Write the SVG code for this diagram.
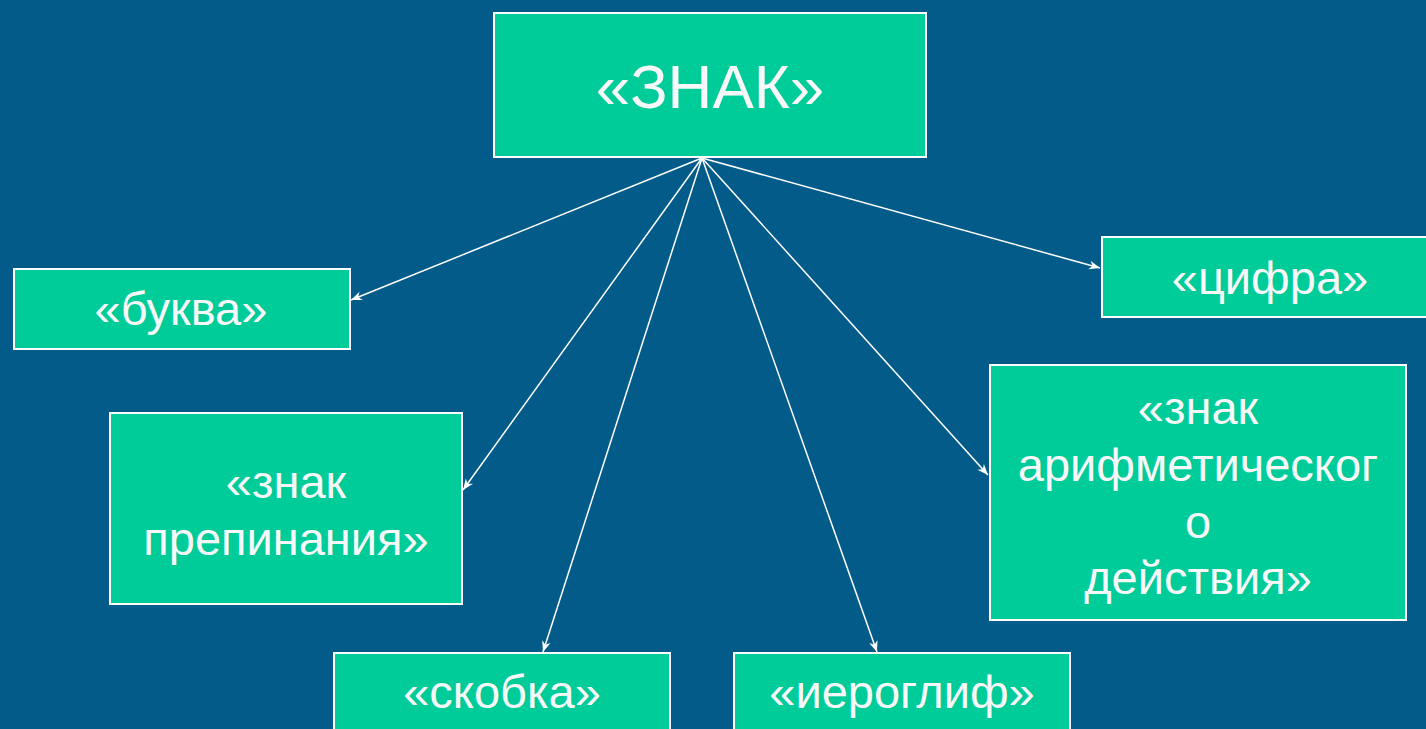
<svg xmlns="http://www.w3.org/2000/svg" width="1426" height="729" viewBox="0 0 1426 729">
<style>
.box{fill:#00cc99;stroke:#ffffff;stroke-width:2}
.t{font-family:"Liberation Sans",Arial,sans-serif;font-size:47px;fill:#f8f8f8;text-anchor:middle}
.c{stroke:#ffffff;stroke-width:1.5;fill:none;marker-end:url(#ah)}
</style>
<defs>
<marker id="ah" viewBox="0 0 10 10" refX="10" refY="5" markerWidth="11" markerHeight="11" markerUnits="userSpaceOnUse" orient="auto">
<path d="M0,1 L10,5 L0,9 L3,5 Z" fill="#ffffff"/>
</marker>
</defs>
<rect width="1426" height="729" fill="#035b8a"/>
<g id="connectors">
<line class="c" x1="702" y1="158" x2="351" y2="300"/>
<line class="c" x1="702" y1="158" x2="463" y2="490"/>
<line class="c" x1="702" y1="158" x2="543" y2="652"/>
<line class="c" x1="702" y1="158" x2="877" y2="652"/>
<line class="c" x1="702" y1="158" x2="988" y2="475"/>
<line class="c" x1="702" y1="158" x2="1100" y2="268"/>
</g>
<g id="znak">
<rect class="box" x="494" y="13" width="432" height="144"/>
<text class="t" x="710" y="108" style="font-size:62px">«ЗНАК»</text>
</g>
<g id="bukva">
<rect class="box" x="14" y="269" width="336" height="80"/>
<text class="t" x="181" y="325">«буква»</text>
</g>
<g id="punct">
<rect class="box" x="110" y="413" width="352" height="191"/>
<text class="t" x="286" y="498">«знак</text>
<text class="t" x="286" y="555">препинания»</text>
</g>
<g id="skobka">
<rect class="box" x="334" y="653" width="336" height="90"/>
<text class="t" x="502" y="708">«скобка»</text>
</g>
<g id="ieroglif">
<rect class="box" x="734" y="653" width="336" height="90"/>
<text class="t" x="902" y="708">«иероглиф»</text>
</g>
<g id="cifra">
<rect class="box" x="1102" y="237" width="340" height="80"/>
<text class="t" x="1270" y="294">«цифра»</text>
</g>
<g id="arith">
<rect class="box" x="990" y="365" width="416" height="255"/>
<text class="t" x="1198" y="424">«знак</text>
<text class="t" x="1198" y="481">арифметическог</text>
<text class="t" x="1198" y="538">о</text>
<text class="t" x="1198" y="594">действия»</text>
</g>
</svg>
